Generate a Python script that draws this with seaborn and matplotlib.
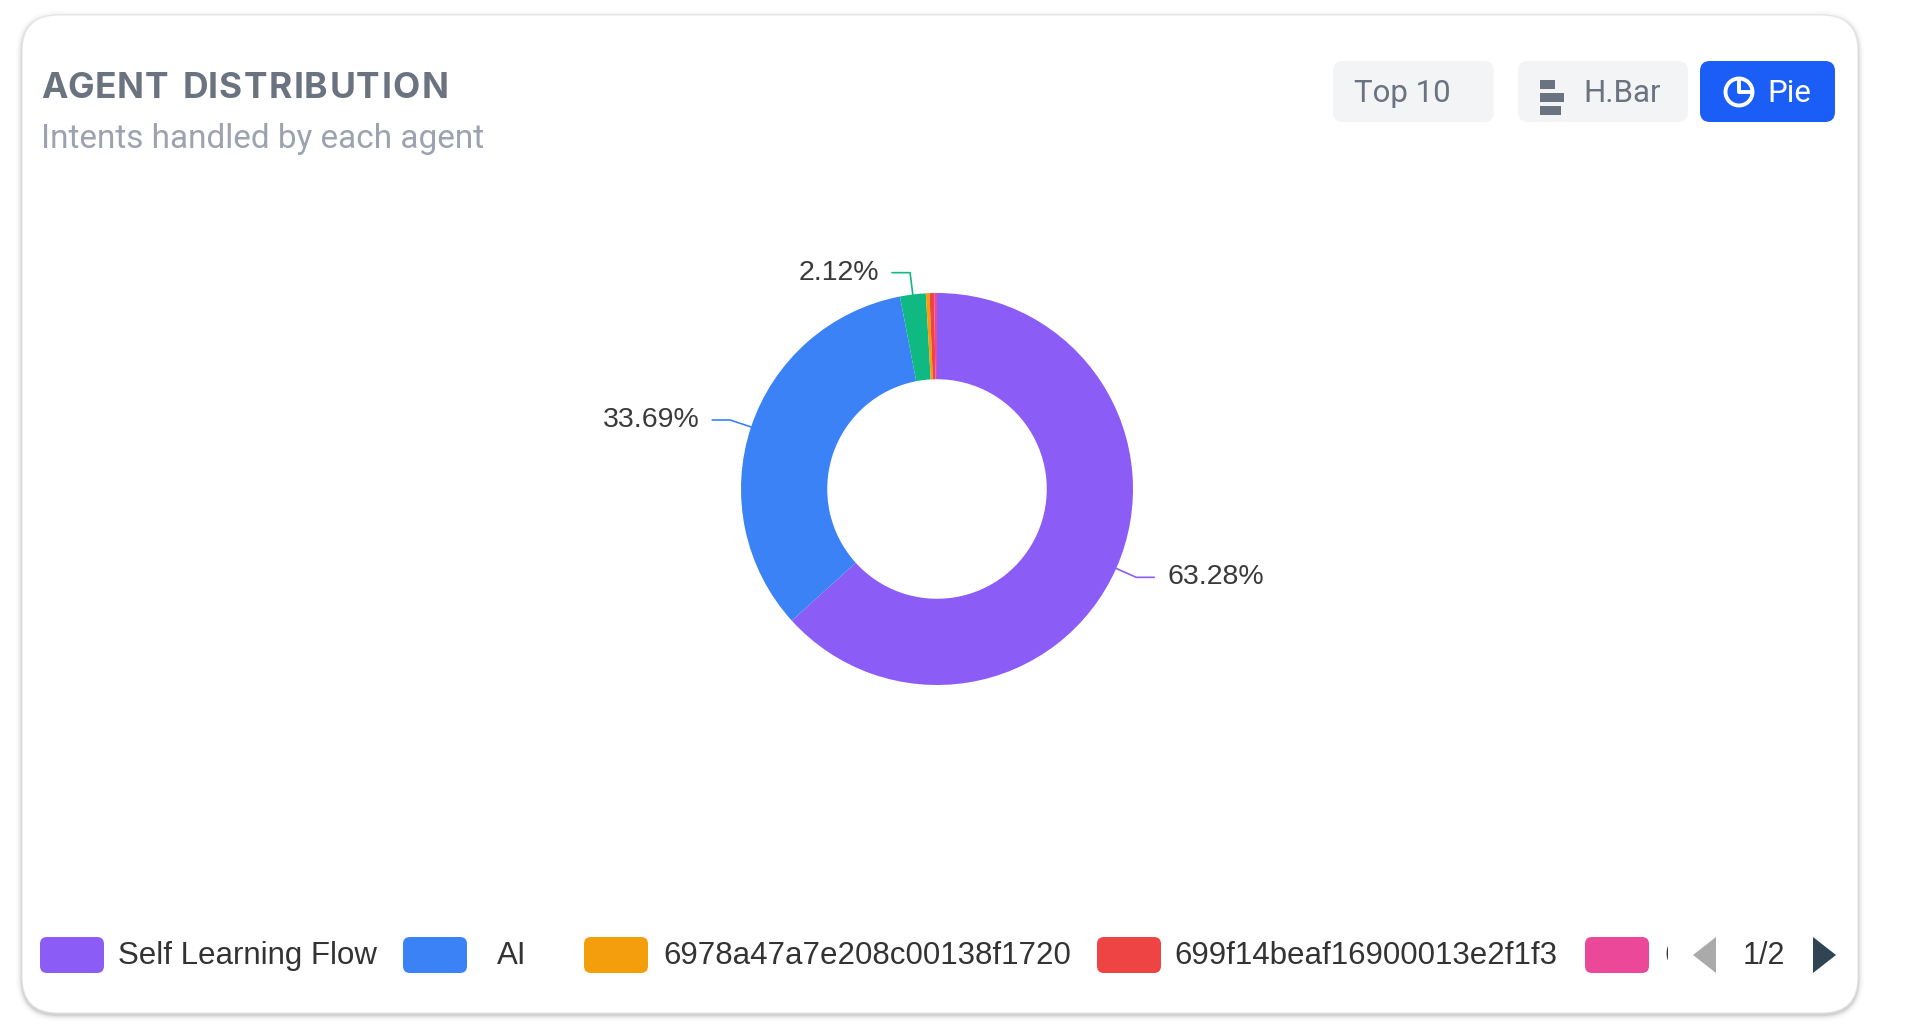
import matplotlib
matplotlib.use("Agg")
import matplotlib.pyplot as plt
from matplotlib.patches import FancyBboxPatch, Rectangle, Polygon, Circle
from matplotlib.textpath import TextPath
from matplotlib.font_manager import FontProperties
import numpy as np
import seaborn as sns

# --- data ---
slice_names = ["Self Learning Flow", "AI", "", "6978a47a7e208c00138f1720",
               "699f14beaf16900013e2f1f3", "6"]
shares = [63.28, 33.69, 2.12, 0.30, 0.38, 0.23]
slice_colors = ["#8b5cf6", "#3b82f6", "#10b981", "#f59e0b", "#ef4444", "#ec4899"]
legend_page = [0, 1, 3, 4, 5]          # items shown on legend page 1
page_text = "1/2"
buttons = ["Top 10", "H.Bar", "Pie"]
title = "AGENT DISTRIBUTION"
subtitle = "Intents handled by each agent"

W, H = 1907, 1032
sns.set_theme(style="white")
plt.rcParams["font.family"] = ["Liberation Sans", "DejaVu Sans"]
palette = sns.color_palette(slice_colors)

fig = plt.figure(figsize=(W / 100, H / 100), dpi=100)
fig.patch.set_facecolor("white")

# background axes in pixel units (y down)
bg = fig.add_axes([0, 0, 1, 1])
bg.set_xlim(0, W)
bg.set_ylim(H, 0)
bg.axis("off")


def spaced_text(x, y, s, size, spacing, **kw):
    # letter-spaced text: advance each glyph by its own width plus spacing (px)
    fp = FontProperties(family=kw.pop("family"), weight=kw.pop("weight", "normal"), size=size)
    px_per_pt = 100 / 72
    for i, ch in enumerate(s):
        adv = TextPath((0, 0), s[:i], prop=fp).get_extents().width if i else 0
        if i and s[i - 1] == " ":
            adv = TextPath((0, 0), s[:i] + "x", prop=fp).get_extents().width - \
                  TextPath((0, 0), "x", prop=fp).get_extents().width
        bg.text(x + adv * px_per_pt + i * spacing, y, ch, fontproperties=fp, **kw)


# card with soft shadow
for g, a in [(6, 0.015), (4, 0.03), (2.5, 0.05), (1.2, 0.08)]:
    bg.add_patch(FancyBboxPatch((22 - g, 15 - g + 2), 1836 + 2 * g, 998 + 2 * g,
                                boxstyle=f"round,pad=0,rounding_size={36 + g}",
                                fc="black", ec="none", alpha=a))
bg.add_patch(FancyBboxPatch((22, 15), 1836, 998, boxstyle="round,pad=0,rounding_size=36",
                            fc="white", ec="#e4e4e7", lw=0.8))

# header
spaced_text(41, 88, title, 25.5, 1.4, family=["Inter", "Roboto", "DejaVu Sans"],
            weight="bold", color="#6b7280", va="center", ha="left")
bg.text(41, 139, subtitle, fontsize=24, color="#9ca3af",
        family="Roboto", va="center", ha="left")

# toggle buttons
btn_boxes = [(1333, 161), (1518, 170), (1700, 135)]
for (bx, bw), label in zip(btn_boxes, buttons):
    active = label == "Pie"
    bg.add_patch(FancyBboxPatch((bx, 61), bw, 61, boxstyle="round,pad=0,rounding_size=10",
                                fc="#1b5ef7" if active else "#f3f4f6", ec="none"))
bg.text(1354, 94, buttons[0], fontsize=22.5, color="#6b7280", family="Roboto", va="center")
for y0, w in [(80, 15), (93, 24), (106, 21)]:
    bg.add_patch(Rectangle((1540, y0), w, 9, fc="#6b7280", ec="none"))
bg.text(1583, 94, buttons[1], fontsize=22.5, color="#6b7280", family="Roboto", va="center")
bg.add_patch(Circle((1739, 92), 13.5, fc="none", ec="white", lw=2.8))
bg.plot([1739, 1739, 1752.5], [78.5, 92, 92], color="white", lw=2.8, solid_capstyle="butt")
bg.text(1767, 94, buttons[2], fontsize=22.5, color="white", family="Roboto", va="center")

# donut
cx, cy, R = 937, 489, 196
half = 250
ax = fig.add_axes([(cx - half) / W, (H - cy - half) / H, 2 * half / W, 2 * half / H])
wedges, _ = ax.pie(shares, colors=palette, startangle=90, counterclock=False,
                   radius=1.0, wedgeprops=dict(width=0.44, linewidth=0))
lim = half / R
ax.set_xlim(-lim, lim)
ax.set_ylim(-lim, lim)
ax.axis("off")

k1, k2, gap = 1 + 22 / R, 18 / R, 13 / R
for w, val, col in zip(wedges, shares, palette):
    if val < 1:
        continue
    ang = np.deg2rad((w.theta1 + w.theta2) / 2)
    c, s = np.cos(ang), np.sin(ang)
    side = 1 if c >= 0 else -1
    x1, y1 = k1 * c, k1 * s
    ax.plot([c, x1, x1 + side * k2], [s, y1, y1], color=col, lw=1.2, clip_on=False)
    ax.text(x1 + side * (k2 + gap), y1, f"{val:.2f}%", fontsize=20.5, color="#3a3a3a",
            ha="left" if side > 0 else "right", va="center", clip_on=False)

# legend (page 1)
sw_x = [40, 403, 584, 1097, 1585]
tx_x = [118, 497, 663, 1174, 1664]
ly = 955
for i, sx, tx in zip(legend_page, sw_x, tx_x):
    bg.add_patch(FancyBboxPatch((sx, ly - 18), 64, 36, boxstyle="round,pad=0,rounding_size=7",
                                fc=palette[i], ec="none"))
    t = bg.text(tx, ly + 1, slice_names[i], fontsize=22.5, color="#333333",
                va="center", ha="left")
    if i == legend_page[-1]:
        t.set_clip_on(True)
        t.set_clip_path(Rectangle((tx, ly - 30), 4, 60, transform=bg.transData))

bg.add_patch(Polygon([(1716, 937), (1716, 973), (1693, 955)], closed=True,
                     fc="#aaaaaa", ec="none"))
bg.text(1764, ly + 1, page_text, fontsize=22, color="#333333", ha="center", va="center")
bg.add_patch(Polygon([(1813, 937), (1813, 973), (1836, 955)], closed=True,
                     fc="#2f4554", ec="none"))

fig.savefig("out.png", dpi=100, facecolor="white")
